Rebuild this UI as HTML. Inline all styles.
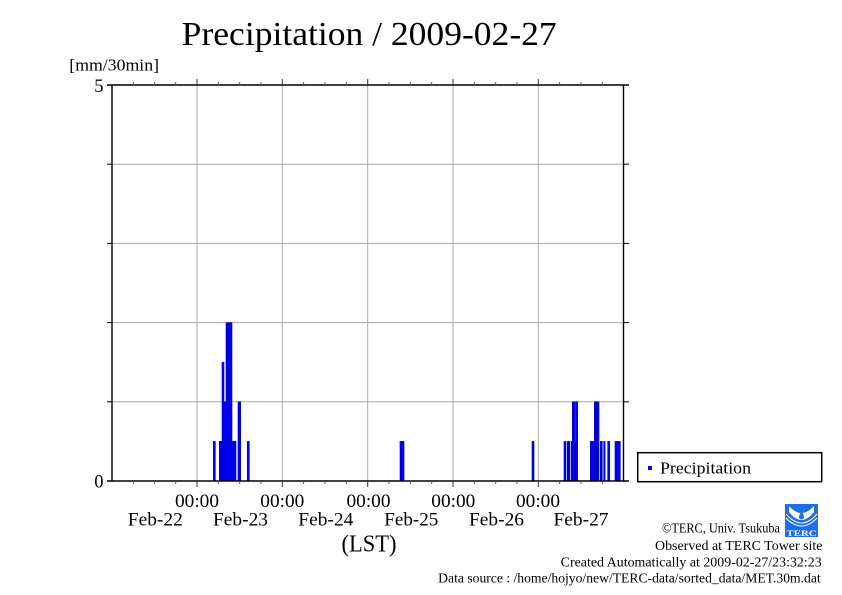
<!DOCTYPE html>
<html><head><meta charset="utf-8"><style>
html,body{margin:0;padding:0;background:#fff;}
svg{display:block;}
text{font-family:"Liberation Serif","DejaVu Serif",serif;fill:#000;}
</style></head><body>
<svg width="842" height="595" viewBox="0 0 842 595" xmlns="http://www.w3.org/2000/svg">
<rect x="0" y="0" width="842" height="595" fill="#fff"/>
<!-- title -->
<text x="181.7" y="45" font-size="34" textLength="375" lengthAdjust="spacingAndGlyphs">Precipitation / 2009-02-27</text>
<text x="69.3" y="70.5" font-size="17" textLength="89.7" lengthAdjust="spacingAndGlyphs">[mm/30min]</text>
<!-- grid -->
<g stroke="#a8a8a8" stroke-width="1">
<line x1="197" y1="85" x2="197" y2="481"/>
<line x1="282.3" y1="85" x2="282.3" y2="481"/>
<line x1="367.7" y1="85" x2="367.7" y2="481"/>
<line x1="453" y1="85" x2="453" y2="481"/>
<line x1="538.3" y1="85" x2="538.3" y2="481"/>
<line x1="112" y1="401.8" x2="623.5" y2="401.8"/>
<line x1="112" y1="322.6" x2="623.5" y2="322.6"/>
<line x1="112" y1="243.4" x2="623.5" y2="243.4"/>
<line x1="112" y1="164.2" x2="623.5" y2="164.2"/>
</g>
<!-- bars -->
<g fill="#0000ff" stroke="#0000a0" stroke-width="0.6">
<rect x="213.3" y="441.4" width="2" height="39.6"/>
<rect x="219.3" y="441.4" width="2" height="39.6"/>
<rect x="221.3" y="441.4" width="1.8" height="39.6"/>
<rect x="222" y="362.2" width="2" height="118.8"/>
<rect x="223.5" y="401.8" width="2.5" height="79.2"/>
<rect x="226" y="322.6" width="2.7" height="158.4"/>
<rect x="228" y="401.8" width="1.5" height="79.2"/>
<rect x="229.3" y="322.6" width="2.7" height="158.4"/>
<rect x="231.3" y="441.4" width="2.2" height="39.6"/>
<rect x="233.5" y="441.4" width="2.5" height="39.6"/>
<rect x="238" y="401.8" width="2.7" height="79.2"/>
<rect x="247.3" y="441.4" width="2" height="39.6"/>
<rect x="400" y="441.4" width="4" height="39.6"/>
<rect x="532" y="441.4" width="2" height="39.6"/>
<rect x="564" y="441.4" width="1.7" height="39.6"/>
<rect x="567" y="441.4" width="2.7" height="39.6"/>
<rect x="571" y="441.4" width="2" height="39.6"/>
<rect x="572.3" y="401.8" width="2.7" height="79.2"/>
<rect x="575" y="441.4" width="1" height="39.6"/>
<rect x="575.7" y="401.8" width="2" height="79.2"/>
<rect x="590.3" y="441.4" width="4" height="39.6"/>
<rect x="594.3" y="401.8" width="2.2" height="79.2"/>
<rect x="596.5" y="401.8" width="2.5" height="79.2"/>
<rect x="600.3" y="441.4" width="2" height="39.6"/>
<rect x="603.7" y="441.4" width="1.4" height="39.6"/>
<rect x="607.7" y="441.4" width="2" height="39.6"/>
<rect x="615" y="441.4" width="2.6" height="39.6"/>
<rect x="617.6" y="441.4" width="2.7" height="39.6"/>
</g>
<!-- axes -->
<g stroke="#000" stroke-width="1.4" fill="none">
<line x1="112" y1="85" x2="112" y2="481.5"/>
<line x1="623.5" y1="85" x2="623.5" y2="481.5"/>
<line x1="107" y1="481" x2="629" y2="481"/>
<line x1="107" y1="85" x2="629" y2="85"/>
</g>
<g stroke="#000" stroke-width="1">
<!-- y ticks left & right -->
<line x1="107" y1="401.8" x2="112" y2="401.8"/>
<line x1="107" y1="322.6" x2="112" y2="322.6"/>
<line x1="107" y1="243.4" x2="112" y2="243.4"/>
<line x1="107" y1="164.2" x2="112" y2="164.2"/>
<line x1="623.5" y1="401.8" x2="629" y2="401.8"/>
<line x1="623.5" y1="322.6" x2="629" y2="322.6"/>
<line x1="623.5" y1="243.4" x2="629" y2="243.4"/>
<line x1="623.5" y1="164.2" x2="629" y2="164.2"/>
</g>
<g stroke="#333" stroke-width="1">
<!-- bottom major -->
<line x1="197" y1="481" x2="197" y2="487"/>
<line x1="282.3" y1="481" x2="282.3" y2="487"/>
<line x1="367.7" y1="481" x2="367.7" y2="487"/>
<line x1="453" y1="481" x2="453" y2="487"/>
<line x1="538.3" y1="481" x2="538.3" y2="487"/>
<!-- top major -->
<line x1="197" y1="79" x2="197" y2="85"/>
<line x1="282.3" y1="79" x2="282.3" y2="85"/>
<line x1="367.7" y1="79" x2="367.7" y2="85"/>
<line x1="453" y1="79" x2="453" y2="85"/>
<line x1="538.3" y1="79" x2="538.3" y2="85"/>
</g>
<g stroke="#555" stroke-width="1">
<!-- minor bottom -->
<line x1="133.3" y1="481" x2="133.3" y2="484"/><line x1="154.7" y1="481" x2="154.7" y2="484"/><line x1="175.7" y1="481" x2="175.7" y2="484"/>
<line x1="218.3" y1="481" x2="218.3" y2="484"/><line x1="239.7" y1="481" x2="239.7" y2="484"/><line x1="261" y1="481" x2="261" y2="484"/>
<line x1="303.6" y1="481" x2="303.6" y2="484"/><line x1="325" y1="481" x2="325" y2="484"/><line x1="346.3" y1="481" x2="346.3" y2="484"/>
<line x1="389" y1="481" x2="389" y2="484"/><line x1="410.3" y1="481" x2="410.3" y2="484"/><line x1="431.7" y1="481" x2="431.7" y2="484"/>
<line x1="474.3" y1="481" x2="474.3" y2="484"/><line x1="495.7" y1="481" x2="495.7" y2="484"/><line x1="517" y1="481" x2="517" y2="484"/>
<line x1="559.6" y1="481" x2="559.6" y2="484"/><line x1="581" y1="481" x2="581" y2="484"/><line x1="602.3" y1="481" x2="602.3" y2="484"/>
<!-- minor top -->
<line x1="133.3" y1="82" x2="133.3" y2="85"/><line x1="154.7" y1="82" x2="154.7" y2="85"/><line x1="175.7" y1="82" x2="175.7" y2="85"/>
<line x1="218.3" y1="82" x2="218.3" y2="85"/><line x1="239.7" y1="82" x2="239.7" y2="85"/><line x1="261" y1="82" x2="261" y2="85"/>
<line x1="303.6" y1="82" x2="303.6" y2="85"/><line x1="325" y1="82" x2="325" y2="85"/><line x1="346.3" y1="82" x2="346.3" y2="85"/>
<line x1="389" y1="82" x2="389" y2="85"/><line x1="410.3" y1="82" x2="410.3" y2="85"/><line x1="431.7" y1="82" x2="431.7" y2="85"/>
<line x1="474.3" y1="82" x2="474.3" y2="85"/><line x1="495.7" y1="82" x2="495.7" y2="85"/><line x1="517" y1="82" x2="517" y2="85"/>
<line x1="559.6" y1="82" x2="559.6" y2="85"/><line x1="581" y1="82" x2="581" y2="85"/><line x1="602.3" y1="82" x2="602.3" y2="85"/>
</g>
<!-- y labels -->
<text x="103.5" y="91.8" font-size="18.5" text-anchor="end">5</text>
<text x="103.5" y="487.5" font-size="18.5" text-anchor="end">0</text>
<!-- x labels -->
<g font-size="18.5" text-anchor="middle">
<text x="197" y="507" textLength="44" lengthAdjust="spacingAndGlyphs">00:00</text>
<text x="282.3" y="507" textLength="44" lengthAdjust="spacingAndGlyphs">00:00</text>
<text x="368.5" y="507" textLength="44" lengthAdjust="spacingAndGlyphs">00:00</text>
<text x="453.3" y="507" textLength="44" lengthAdjust="spacingAndGlyphs">00:00</text>
<text x="538" y="507" textLength="44" lengthAdjust="spacingAndGlyphs">00:00</text>
</g>
<g font-size="19" text-anchor="middle">
<text x="155.3" y="525.7" textLength="55" lengthAdjust="spacingAndGlyphs">Feb-22</text>
<text x="240.5" y="525.7" textLength="55" lengthAdjust="spacingAndGlyphs">Feb-23</text>
<text x="325.8" y="525.7" textLength="55" lengthAdjust="spacingAndGlyphs">Feb-24</text>
<text x="411.3" y="525.7" textLength="54" lengthAdjust="spacingAndGlyphs">Feb-25</text>
<text x="496.5" y="525.7" textLength="55" lengthAdjust="spacingAndGlyphs">Feb-26</text>
<text x="581" y="525.7" textLength="55" lengthAdjust="spacingAndGlyphs">Feb-27</text>
</g>
<text x="369" y="551.5" font-size="24" text-anchor="middle" textLength="55" lengthAdjust="spacingAndGlyphs">(LST)</text>
<!-- legend -->
<rect x="637.7" y="452.7" width="184" height="29" fill="#fff" stroke="#000" stroke-width="1.5"/>
<rect x="648" y="466" width="4" height="4" fill="#0000ff"/>
<text x="660" y="473.5" font-size="17" textLength="91" lengthAdjust="spacingAndGlyphs">Precipitation</text>
<!-- footer -->
<g font-size="13.5" text-anchor="end">
<text x="780" y="532.5" textLength="118" lengthAdjust="spacingAndGlyphs">©TERC, Univ. Tsukuba</text>
<text x="822.5" y="550" textLength="167.5" lengthAdjust="spacingAndGlyphs">Observed at TERC Tower site</text>
<text x="821.7" y="566.7" textLength="261" lengthAdjust="spacingAndGlyphs">Created Automatically at 2009-02-27/23:32:23</text>
<text x="820.7" y="582.7" textLength="382.5" lengthAdjust="spacingAndGlyphs">Data source : /home/hojyo/new/TERC-data/sorted_data/MET.30m.dat</text>
</g>
<!-- logo -->
<g>
<rect x="785" y="504" width="33" height="33" fill="#1e6fe6"/>
<path d="M789 506 Q801.5 520 814 506 L814 512 Q801.5 528 789 512 Z" fill="#fff"/>
<path d="M786 514 Q801.5 532 817 514" stroke="#fff" stroke-width="1" fill="none"/>
<path d="M786 518 Q801.5 534 817 518" stroke="#fff" stroke-width="1" fill="none"/>
<path d="M801.5 511 Q798.5 516 799 518 Q801.5 521 804 518 Q804.5 516 801.5 511 Z" fill="#1e6fe6"/>
<text x="801.5" y="536" font-size="8" text-anchor="middle" font-weight="bold" style="fill:#fff" textLength="30" lengthAdjust="spacingAndGlyphs">TERC</text>
</g>
</svg>
</body></html>
